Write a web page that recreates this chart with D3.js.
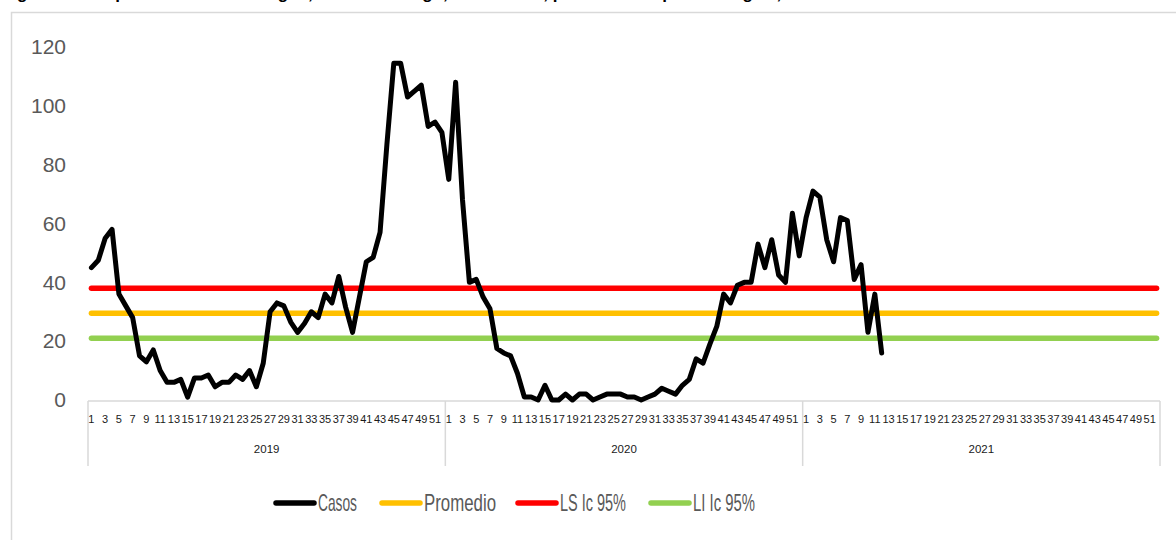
<!DOCTYPE html>
<html>
<head>
<meta charset="utf-8">
<script src="https://cdn.jsdelivr.net/npm/d3@7/dist/d3.min.js"></script>
<style>
  html, body { margin: 0; padding: 0; background: #fff; }
  svg { display: block; }
  .narrow { font-family: "Liberation Sans", Arial, sans-serif; }
</style>
</head>
<body>
<svg id="chart" width="1176" height="540"></svg>
<script>
// ---------------- DATA ----------------
const years = ["2019", "2020", "2021"];
const weeksPerYear = 52;
const yTicks = [0, 20, 40, 60, 80, 100, 120];

const casos2019 = [45, 47.5, 55, 58, 36, 32, 28, 15, 13, 17, 10, 6, 6, 7, 1, 7.5,
  7.5, 8.5, 4.5, 6, 6, 8.5, 7, 10, 4.5, 12.5, 30, 33, 32, 26.5, 23, 26,
  30, 28, 36, 33, 42, 31.5, 23, 35, 47, 48.5, 57, 87, 114.5, 114.5, 103, 105,
  107, 93, 94.5, 91];
const casos2020 = [75, 108, 68, 40, 41, 35, 31, 17.5, 16, 15, 9, 1, 1, 0, 5, 0,
  0, 2, 0, 2, 2, 0, 1, 2, 2, 2, 1, 1, 0, 1, 2, 4,
  3, 2, 5, 7, 14, 12.5, 19, 25, 36, 33, 39, 40, 40, 53, 45, 54.5,
  42.5, 40, 63.5, 49];
const casos2021 = [62, 71, 69, 54.5, 47, 62, 61, 41, 46, 23, 36, 16];

const promedio = 29.5;
const lsIc95 = 38;
const liIc95 = 21;

const legendItems = [
  { name: "Casos", color: "#000000" },
  { name: "Promedio", color: "#ffc000" },
  { name: "LS Ic 95%", color: "#ff0000" },
  { name: "LI Ic 95%", color: "#92d050" }
];

const titleText = "Figura 1. Comportamiento del dengue, Santo Domingo, 2019 - 2021, por semana epidemiológica, Colombia";

// ---------------- BUILD ----------------
(function () {
const svg = d3.select("#chart");
const cats = [];
const points = [];
const seriesByYear = [casos2019, casos2020, casos2021];
years.forEach((yr, yi) => {
  for (let w = 1; w <= weeksPerYear; w++) {
    const key = yr + "-" + w;
    cats.push(key);
    const v = seriesByYear[yi][w - 1];
    if (v !== undefined) points.push({ key, v });
  }
});

const pLeft = 88, pRight = 1160, pTop = 47, pBottom = 400;
const x = d3.scaleBand().domain(cats).range([pLeft, pRight]).padding(0);
const xYear = d3.scaleBand().domain(years).range([pLeft, pRight]).padding(0);
const y = d3.scaleLinear().domain([0, 120]).range([pBottom, pTop]);

// Title (cut off at the top edge, as in the source image)
svg.append("text")
  .attr("x", 2).attr("y", -1)
  .attr("font-family", "Liberation Sans, Arial, sans-serif")
  .attr("font-weight", "bold").attr("font-size", 17)
  .attr("fill", "#000")
  .text(titleText);

// Outer frame
svg.append("rect")
  .attr("x", 11.5).attr("y", 12.5)
  .attr("width", 1200).attr("height", 560)
  .attr("fill", "none").attr("stroke", "#d9d9d9").attr("stroke-width", 1.5);

// Y axis labels
const yAxis = d3.axisLeft(y).tickValues(yTicks).tickSize(0).tickPadding(0);
const gy = svg.append("g").attr("transform", "translate(66,0)").call(yAxis);
gy.select(".domain").remove();
gy.selectAll("text")
  .attr("class", "narrow")
  .attr("font-size", 21).attr("fill", "#595959");

// Category axis box
svg.append("line")
  .attr("x1", pLeft).attr("x2", pRight).attr("y1", pBottom + 1).attr("y2", pBottom + 1)
  .attr("stroke", "#d9d9d9").attr("stroke-width", 1.5);
const seps = years.map(yr => xYear(yr)).concat([pRight]);
svg.selectAll(".sep").data(seps).enter().append("line")
  .attr("class", "sep")
  .attr("x1", d => d).attr("x2", d => d)
  .attr("y1", pBottom + 1).attr("y2", 466)
  .attr("stroke", "#d9d9d9").attr("stroke-width", 1.5);

// Week labels
const weekTicks = cats.filter(k => (+k.split("-")[1]) % 2 === 1);
const xAxis = d3.axisBottom(x).tickValues(weekTicks)
  .tickFormat(k => k.split("-")[1]).tickSize(0).tickPadding(0);
const gx = svg.append("g").attr("transform", "translate(0,415)").call(xAxis);
gx.select(".domain").remove();
gx.selectAll("text")
  .attr("class", "narrow")
  .attr("font-size", 11).attr("fill", "#1a1a1a");

// Year labels
const yearAxis = d3.axisBottom(xYear).tickSize(0).tickPadding(0);
const gyr = svg.append("g").attr("transform", "translate(0,445)").call(yearAxis);
gyr.select(".domain").remove();
gyr.selectAll("text")
  .attr("class", "narrow")
  .attr("font-size", 11.5).attr("fill", "#1a1a1a");

// Threshold lines
const hLines = [
  { v: lsIc95, color: "#ff0000" },
  { v: promedio, color: "#ffc000" },
  { v: liIc95, color: "#92d050" }
];
svg.selectAll(".hl").data(hLines).enter().append("line")
  .attr("class", "hl")
  .attr("x1", x(cats[0]) + x.bandwidth() / 2)
  .attr("x2", x(cats[cats.length - 1]) + x.bandwidth() / 2)
  .attr("y1", d => y(d.v)).attr("y2", d => y(d.v))
  .attr("stroke", d => d.color).attr("stroke-width", 5.5)
  .attr("stroke-linecap", "round");

// Casos line
const line = d3.line()
  .x(d => x(d.key) + x.bandwidth() / 2)
  .y(d => y(d.v));
svg.append("path").datum(points)
  .attr("d", line)
  .attr("fill", "none").attr("stroke", "#000")
  .attr("stroke-width", 5).attr("stroke-linejoin", "round").attr("stroke-linecap", "round");

// Legend
const legendX = [276, 382, 518, 651];
const legendW = [39, 72, 66, 62];
const lg = svg.selectAll(".lg").data(legendItems).enter().append("g")
  .attr("class", "lg")
  .attr("transform", (d, i) => `translate(${legendX[i]},503)`);
lg.append("line")
  .attr("x1", 0).attr("x2", 38).attr("y1", 0).attr("y2", 0)
  .attr("stroke", d => d.color).attr("stroke-width", 5.5).attr("stroke-linecap", "round");
lg.append("text")
  .attr("class", "narrow")
  .attr("x", 42).attr("y", 0).attr("dy", "0.35em")
  .attr("font-size", 24).attr("fill", "#595959")
  .attr("textLength", (d, i) => legendW[i])
  .attr("lengthAdjust", "spacingAndGlyphs")
  .text(d => d.name);
})();
</script>
</body>
</html>
